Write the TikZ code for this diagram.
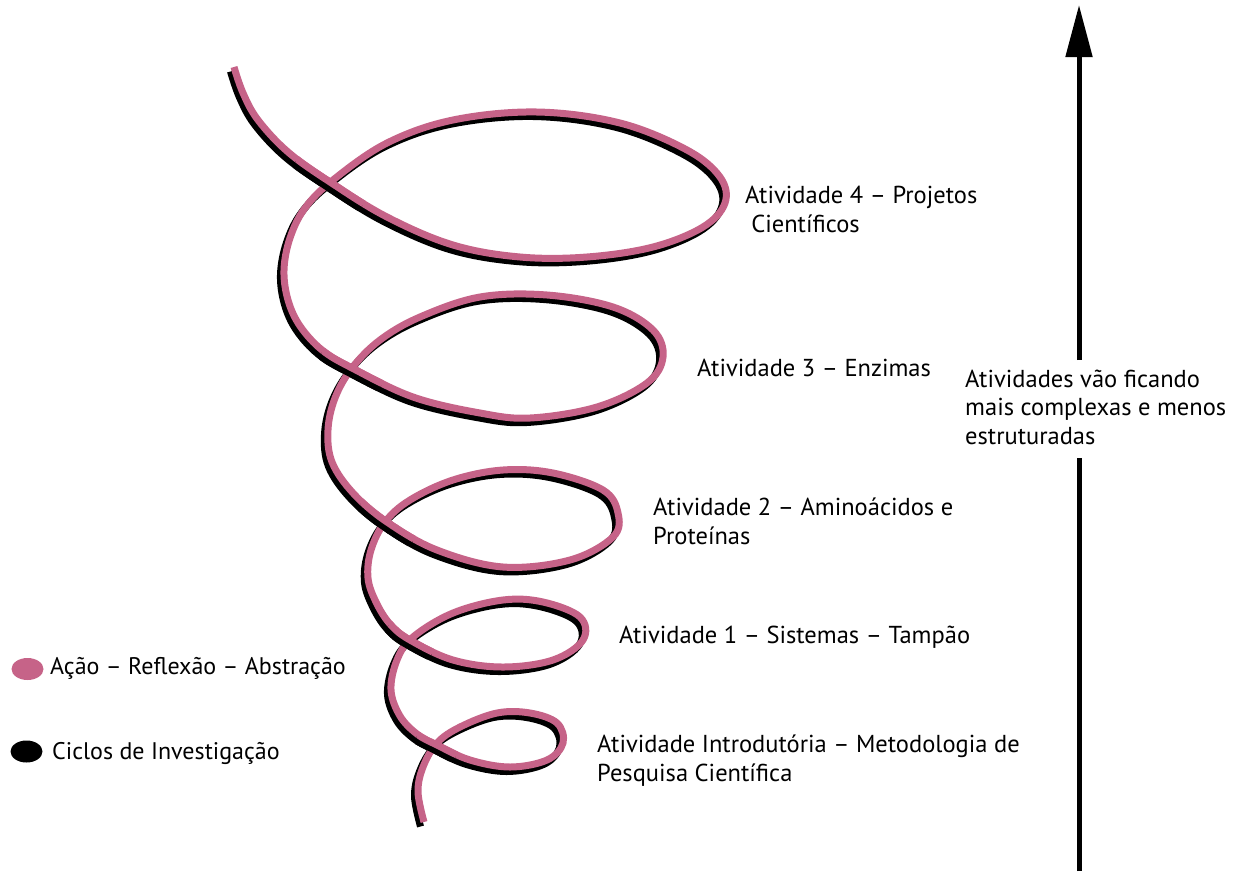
\documentclass[tikz,border=0pt]{standalone}
\usepackage{fontspec}
\setmainfont{PT Sans}
\usetikzlibrary{arrows.meta,shapes.geometric}
\definecolor{rosa}{RGB}{198,99,136}
\begin{document}
\begin{tikzpicture}[x=1pt,y=1pt,
  lbl/.style={anchor=base west, inner sep=0pt, align=left, font=\fontsize{24.5}{28.5}\selectfont},
  leg/.style={anchor=base west, inner sep=0pt, font=\fontsize{24}{28}\selectfont},
  fita/.style={draw=rosa, line width=7pt,
    preaction={draw=black, line width=7pt, transform canvas={shift={(-3.5pt,-4.5pt)}}}},
  legdot/.style={ellipse, minimum width=32pt, minimum height=22pt, inner sep=0pt}]
\useasboundingbox (0,0) rectangle (1238,-871);

% spiral (full)
\path[fita] plot[smooth, tension=0.6] coordinates {
(234,-67) (243,-93) (258,-120) (288,-152) (330,-182) (387,-217) (453,-245) (520,-257) (587,-257) (653,-247) (703,-227) (725,-203) (720,-177) (687,-150) (620,-123) (537,-112) (453,-120) (387,-143) (333,-180) (305,-208) (290,-238) (284,-270) (288,-300) (300,-326) (322,-350) (352,-368) (413,-397) (480,-413) (530,-418) (597,-407) (647,-383) (663,-357) (653,-330) (613,-307) (547,-295) (480,-297) (420,-317) (380,-340) (352,-368) (335,-398) (328,-430) (332,-462) (353,-493) (387,-522) (437,-550) (503,-567) (570,-560) (613,-537) (618,-513) (603,-490) (553,-473) (503,-470) (453,-480) (410,-500) (385,-522) (371,-550) (368,-578) (376,-602) (390,-624) (410,-640) (453,-660) (503,-667) (553,-660) (583,-640) (580,-617) (543,-602) (503,-600) (453,-613) (413,-637) (397,-660) (391,-690) (400,-716) (417,-734) (437,-745) (470,-760) (510,-767) (547,-760) (563,-743) (557,-723) (530,-713) (497,-713) (460,-727) (437,-743) (423,-767) (418,-792) (424,-822)};

% front strands over the crossings
\begin{scope}
\clip (330,-182) circle (40);
\path[fita] plot[smooth, tension=0.6] coordinates {(243,-93) (258,-120) (288,-152) (330,-182) (387,-217) (453,-245) (520,-257)};
\end{scope}
\begin{scope}
\clip (352,-368) circle (34);
\path[fita] plot[smooth, tension=0.6] coordinates {(288,-300) (300,-326) (322,-350) (352,-368) (413,-397) (480,-413) (530,-418)};
\end{scope}
\begin{scope}
\clip (387,-522) circle (32);
\path[fita] plot[smooth, tension=0.6] coordinates {(328,-430) (332,-462) (353,-493) (387,-522) (437,-550) (503,-567) (570,-560)};
\end{scope}
\begin{scope}
\clip (410,-640) circle (26);
\path[fita] plot[smooth, tension=0.6] coordinates {(371,-550) (368,-578) (376,-602) (390,-624) (410,-640) (453,-660) (503,-667) (553,-660)};
\end{scope}
\begin{scope}
\clip (437,-745) circle (22);
\path[fita] plot[smooth, tension=0.6] coordinates {(391,-690) (400,-716) (417,-734) (437,-745) (470,-760) (510,-767) (547,-760)};
\end{scope}

% labels (base anchor = baseline of last line)
\node[lbl] (a4) at (745,-232) {Atividade 4 – Projetos\\\hspace{0.25em}Científicos};
\node[lbl] (a3) at (697,-376) {Atividade 3 – Enzimas};
\node[lbl] (a2) at (653,-544) {Atividade 2 – Aminoácidos e\\Proteínas};
\node[lbl] (a1) at (619,-643) {Atividade 1 – Sistemas – Tampão};
\node[lbl] (a0) at (597,-781) {Atividade Introdutória – Metodologia de\\Pesquisa Científica};

% legend
\node[legdot, fill=rosa] (lrosa) at (27.5,-669) {};
\node[leg] (tlr) at (50,-674) {Ação – Reflexão – Abstração};
\node[legdot, fill=black] (lpreto) at (26.5,-751.5) {};
\node[leg] (tlb) at (52,-759) {Ciclos de Investigação};

% complexity arrow
\node[lbl] (cx) at (965,-444) {Atividades vão ficando\\mais complexas e menos\\estruturadas};
\coordinate (abot) at (1079,-871);
\coordinate (alow) at (1079,-458);
\coordinate (ahigh) at (1079,-360);
\coordinate (atip) at (1079,-5);
\draw[line width=5pt] (abot) -- (alow);
\draw[line width=5pt, -{Triangle[length=52pt,width=26pt]}] (ahigh) -- (atip);
\end{tikzpicture}
\end{document}
